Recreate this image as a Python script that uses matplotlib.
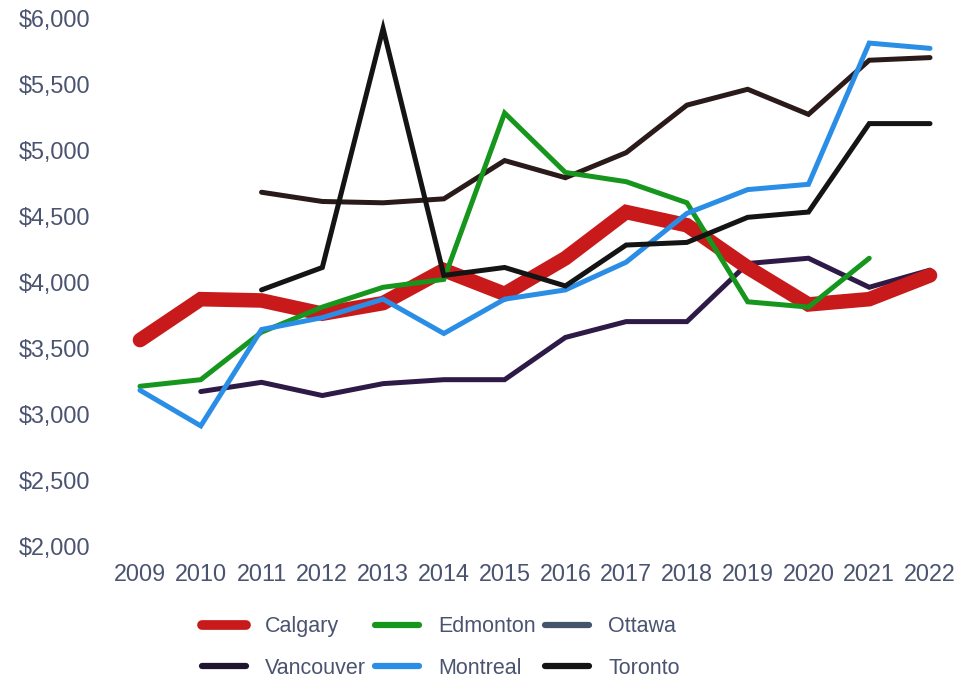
import matplotlib.pyplot as plt
from matplotlib.lines import Line2D
from matplotlib.ticker import FuncFormatter

plt.rcParams['font.family'] = ['Liberation Sans', 'DejaVu Sans']

# =========================
# DATA
# =========================
years = list(range(2009, 2023))

calgary = [3560, 3870, 3860, 3760, 3840, 4090, 3910, 4180, 4530, 4430, 4110, 3830, 3870, 4050]
edmonton = [3210, 3260, 3620, 3810, 3960, 4020, 5280, 4830, 4760, 4600, 3850, 3810, 4180, None]
ottawa = [None, None, 4680, 4610, 4600, 4630, 4920, 4790, 4980, 5340, 5460, 5270, 5680, 5700]
vancouver = [None, 3170, 3240, 3140, 3230, 3260, 3260, 3580, 3700, 3700, 4140, 4180, 3960, 4090]
montreal = [3180, 2910, 3640, 3730, 3870, 3610, 3870, 3940, 4150, 4520, 4700, 4740, 5810, 5770]
toronto = [None, None, 3940, 4110, 5920, 4050, 4110, 3970, 4280, 4300, 4490, 4530, 5200, 5200]

# =========================
# STYLE
# =========================
TEXT_COLOR = "#4a5370"
series = [
    # name, values, plot colour, legend colour, width
    ("Ottawa", ottawa, "#2a1a1a", "#44546a", 3.6),
    ("Vancouver", vancouver, "#2e1a47", "#1f1530", 3.6),
    ("Calgary", calgary, "#c81a1a", "#c81a1a", 10.5),
    ("Edmonton", edmonton, "#16961c", "#16961c", 3.6),
    ("Montreal", montreal, "#2b8ee6", "#2b8ee6", 3.6),
    ("Toronto", toronto, "#141414", "#141414", 3.6),
]

fig = plt.figure(figsize=(9.6, 6.81), dpi=100)
ax = fig.add_axes([110 / 960, 1 - 546 / 681, 845 / 960, 528 / 681])

for name, vals, color, _, lw in series:
    xs = [y for y, v in zip(years, vals) if v is not None]
    ys = [v for v in vals if v is not None]
    ax.plot(xs, ys, color=color, linewidth=lw, solid_capstyle="round",
            solid_joinstyle="miter", clip_on=False, label=name)

ax.set_xlim(2009 - 30 / 60.77, 2022 + 25 / 60.77)
ax.set_ylim(2000, 6000)
ax.set_yticks(range(2000, 6001, 500))
ax.set_xticks(years)
ax.yaxis.set_major_formatter(FuncFormatter(lambda v, p: f"${v:,.0f}"))
ax.tick_params(length=0, labelsize=16.8, colors=TEXT_COLOR)
ax.tick_params(axis="y", pad=14)
ax.tick_params(axis="x", pad=12)
for s in ax.spines.values():
    s.set_visible(False)

# Legend in row order: Calgary, Edmonton, Ottawa / Vancouver, Montreal, Toronto
lookup = {name: (lc, lw) for name, _, _, lc, lw in series}
order = ["Calgary", "Vancouver", "Edmonton", "Montreal", "Ottawa", "Toronto"]
handles = [Line2D([], [], color=lookup[n][0], linewidth=(7 if n == "Calgary" else 4.5),
                  solid_capstyle="round") for n in order]
fig.legend(handles, order, loc="center", bbox_to_anchor=(0.459, 0.049), ncol=3,
           frameon=False, fontsize=15.5, handlelength=2.05, handletextpad=0.9,
           columnspacing=0.4, labelspacing=0.95, labelcolor=TEXT_COLOR)

plt.savefig("out.png", dpi=100)
plt.close()
